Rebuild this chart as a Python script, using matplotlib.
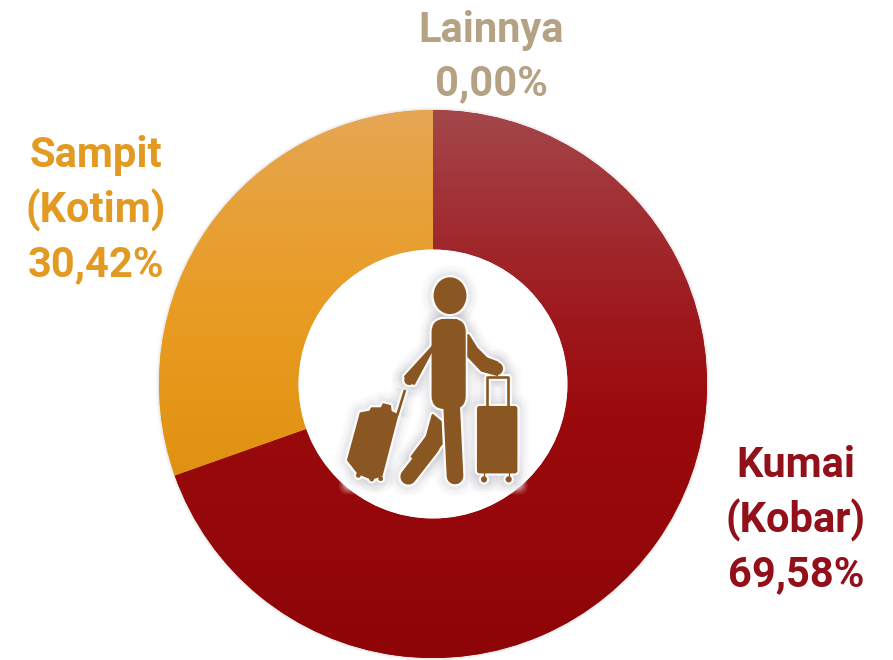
import numpy as np
import matplotlib
matplotlib.use("Agg")
import matplotlib.pyplot as plt
from matplotlib.patches import Polygon, Ellipse, FancyBboxPatch, Circle
from matplotlib.colors import LinearSegmentedColormap
from matplotlib.transforms import Affine2D

categories = ["Kumai\n(Kobar)", "Sampit\n(Kotim)", "Lainnya"]
values = [69.58, 30.42, 0.00]
label_text = ["69,58%", "30,42%", "0,00%"]

W, H = 893, 660
plt.rcParams["font.family"] = ["Roboto", "Liberation Sans", "DejaVu Sans"]
fig = plt.figure(figsize=(W / 100, H / 100), dpi=100)
ax = fig.add_axes([0, 0, 1, 1])

CX, CY, R, RI = 433, 384, 274, 134.5


def Y(y):
    return H - y


# soft edge shadow behind the ring
for k, a in zip([3, 2, 1], [0.03, 0.05, 0.07]):
    ax.add_patch(Circle((CX, Y(CY)), R + k, fc="#606060", ec="none", alpha=a, zorder=0))

wedges, _ = ax.pie(
    values, colors=["#9b0b0e", "#e89b20", "#b5a284"], startangle=90, counterclock=False,
    radius=R, center=(CX, Y(CY)), wedgeprops=dict(width=R - RI, linewidth=0, zorder=1),
)

ax.add_patch(Circle((CX, Y(CY)), RI, fc="white", ec="none", zorder=2))

grads = [
    [(0.0, "#a3474b"), (0.18, "#a12f33"), (0.37, "#9e1a1e"), (0.55, "#9b0a0d"), (1.0, "#8e0507")],
    [(0.0, "#e6a654"), (0.2, "#e8a035"), (0.4, "#e89b20"), (0.7, "#e0900f"), (1.0, "#d98808")],
    [(0.0, "#b5a284"), (1.0, "#b5a284")],
]
ramp = np.linspace(0, 1, 400)[:, None]
for w, stops in zip(wedges, grads):
    cmap = LinearSegmentedColormap.from_list("g", stops)
    im = ax.imshow(ramp, cmap=cmap, vmin=0, vmax=1, aspect="auto", origin="upper",
                   extent=(CX - R, CX + R, Y(CY + R), Y(CY - R)), zorder=1.5)
    im.set_clip_path(w)

ax.set_xlim(0, W)
ax.set_ylim(0, H)
ax.set_aspect("equal")
ax.axis("off")

# traveller icon (pictogram in the hole), outline given in a local 3x grid
icon = Affine2D().scale(1 / 3, -1 / 3).translate(290, H - 240) + ax.transData
BROWN = "#8a5723"
shoulder = [(455, 240), (500, 240), (345, 410), (372, 432), (424, 335)]
arm = [(535, 285), (535, 350), (575, 392), (622, 405), (622, 367), (590, 355), (560, 325)]
back_thigh = [(428, 525), (452, 545), (455, 612), (400, 680), (365, 650), (410, 590)]
case_l = [(212, 520), (240, 515), (245, 505), (275, 505), (280, 493), (300, 498), (302, 515), (322, 525), (275, 706),
          (245, 716), (205, 700), (174, 660)]
handle_l = [(345, 450), (322, 525)]
handle_r = [(590, 498), (590, 410), (655, 410), (655, 498)]


def add_shapes(color, extra, alpha, z):
    kw = dict(fc=color, ec=color, alpha=alpha, transform=icon, zorder=z, joinstyle="round")
    for pts in (shoulder, arm, back_thigh, case_l):
        ax.add_patch(Polygon(pts, closed=True, lw=1.5 + extra, **kw))
    ax.add_patch(Ellipse((480, 167), 98, 110, lw=extra + 0.1, **kw))
    ax.add_patch(FancyBboxPatch((465, 277), 22, 190, boxstyle="round,pad=40,rounding_size=40", lw=extra + 0.1, **kw))
    ax.add_patch(FancyBboxPatch((567, 504), 109, 190, boxstyle="round,pad=6,rounding_size=8", lw=extra + 0.1, **kw))
    for cx, cy, r in [(582, 718, 9), (656, 718, 9), (358, 420, 15), (620, 386, 19), (205, 706, 7), (245, 717, 7),
                      (272, 716, 7)]:
        ax.add_patch(Circle((cx, cy), r, lw=extra + 0.1, **kw))
    lkw = dict(color=color, alpha=alpha, transform=icon, zorder=z)
    for pts in (handle_l, handle_r):
        xs, ys = zip(*pts)
        ax.plot(xs, ys, lw=1.9 + extra, solid_capstyle="butt", **lkw)
    ax.plot([485, 495], [500, 708], lw=12 + extra, solid_capstyle="round", **lkw)
    ax.plot([425, 355], [620, 710], lw=11.5 + extra, solid_capstyle="round", **lkw)
    for cx in (582, 656):
        ax.plot([cx, cx], [695, 715], lw=0.9 + extra, **lkw)


# white fade poking past the hole at its lower edge
for pad, a in [(18, 0.10), (13, 0.15), (8, 0.25), (4, 0.35), (0, 0.5)]:
    ax.add_patch(FancyBboxPatch((165, 700), 530, 45, boxstyle=f"round,pad={pad},rounding_size=25", fc="white",
                                ec="none", alpha=a, transform=icon, zorder=2.5))
# grey blurred halo around the pictogram
for extra, alpha in [(18, 0.018), (14, 0.025), (10, 0.03), (7, 0.035)]:
    add_shapes("#50506a", extra, alpha, 3)
# white separation immediately around the figure
add_shapes("white", 3.0, 0.95, 3.5)
add_shapes(BROWN, 0, 1.0, 4)

# labels
colors = ["#921019", "#e39a22", "#b5a284"]
pos = [(796, 520), (96, 210), (491, 57)]
for name, val, c, (x, y) in zip(categories, label_text, colors, pos):
    ax.text(x, Y(y), f"{name}\n{val}", color=c, fontsize=30, fontweight="bold", ha="center", va="center",
            linespacing=1.38, zorder=6)

fig.savefig("out.png", dpi=100)
